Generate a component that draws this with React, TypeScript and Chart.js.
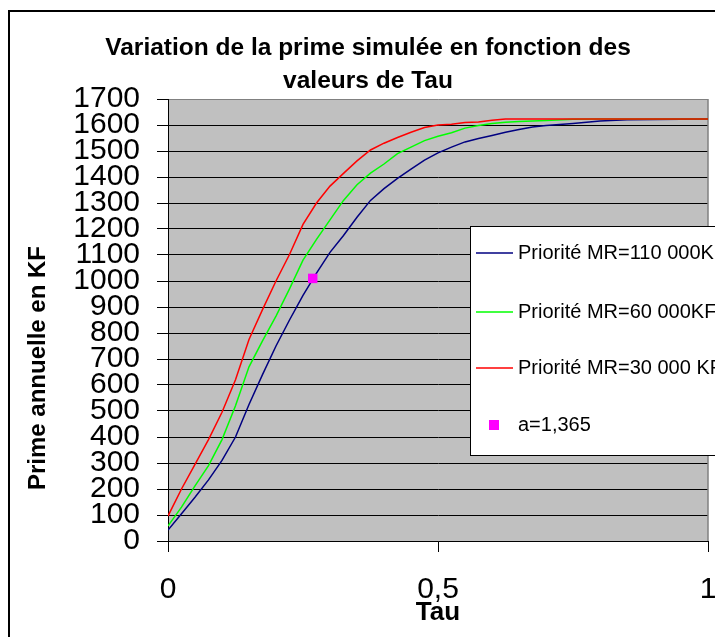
import { useEffect, useRef } from "react";
import { Chart, registerables } from "chart.js";

Chart.register(...registerables);

if (typeof document !== "undefined") {
  document.documentElement.style.overflow = "hidden";
}

const TITLE_LINES = ["Variation de la prime simulée en fonction des", "valeurs de Tau"];
const Y_TITLE = "Prime annuelle en KF";
const X_TITLE = "Tau";
const SERIES_LABELS = ["Priorité MR=110 000KF", "Priorité MR=60 000KF", "Priorité MR=30 000 KF"];
const POINT_LABEL = "a=1,365";

const TAU = [
  0, 0.025, 0.05, 0.075, 0.1, 0.125, 0.15, 0.175, 0.2, 0.225, 0.25, 0.275, 0.3, 0.325, 0.35, 0.375,
  0.4, 0.425, 0.45, 0.475, 0.5, 0.525, 0.55, 0.575, 0.6, 0.625, 0.65, 0.675, 0.7, 0.75, 0.8, 0.85,
  0.9, 0.95, 1,
];
const MR110 = [
  42, 105, 168, 235, 310, 400, 525, 640, 750, 850, 945, 1030, 1110, 1175, 1245, 1310,
  1355, 1395, 1430, 1465, 1493, 1515, 1535, 1548, 1560, 1572, 1583, 1592, 1598, 1606, 1615, 1620,
  1621, 1622, 1623,
];
const MR60 = [
  58, 130, 212, 290, 390, 520, 670, 770, 865, 970, 1080, 1160, 1235, 1310, 1370, 1415,
  1450, 1490, 1515, 1540, 1557, 1570, 1588, 1598, 1606, 1611, 1613, 1615, 1617, 1622, 1623, 1623,
  1623, 1623, 1623,
];
const MR30 = [
  96, 200, 295, 390, 495, 620, 775, 890, 1000, 1102, 1218, 1300, 1365, 1414, 1462, 1504,
  1530, 1552, 1572, 1590, 1600, 1603, 1610, 1612, 1618, 1623, 1623, 1623, 1623, 1623, 1623, 1623,
  1623, 1623, 1623,
];
const POINT_TAU = [0.268];
const POINT_VALUE = [1010];

const X_MIN = 0;
const X_MAX = 1;
const X_STEP = 0.5;
const Y_MIN = 0;
const Y_MAX = 1700;
const Y_STEP = 100;

const COLORS = ["#000080", "#00FF00", "#FF0000"];
const MARKER_COLOR = "#FF00FF";
const FONT = "'Liberation Sans', Arial, Helvetica, sans-serif";

const decorPlugin = {
  id: "decor",
  beforeDraw(chart: any) {
    const { ctx, chartArea } = chart;
    const { left, top, right, bottom } = chartArea;
    ctx.save();
    ctx.fillStyle = "#C0C0C0";
    ctx.fillRect(left, top, right - left, bottom - top);
    ctx.restore();
  },
  beforeDatasetsDraw(chart: any) {
    const { ctx, chartArea } = chart;
    const { top, right, bottom } = chartArea;
    ctx.save();
    ctx.strokeStyle = "#808080";
    ctx.lineWidth = 1.5;
    ctx.beginPath();
    ctx.moveTo(right, top);
    ctx.lineTo(right, bottom);
    ctx.stroke();
    ctx.restore();
  },
  afterDraw(chart: any) {
    const { ctx } = chart;
    ctx.save();
    // outer frame
    ctx.strokeStyle = "#000";
    ctx.lineWidth = 2;
    ctx.strokeRect(1, 3, 900, 900);

    // title
    ctx.fillStyle = "#000";
    ctx.textAlign = "center";
    ctx.textBaseline = "middle";
    ctx.font = `bold 24.5px ${FONT}`;
    ctx.fillText(TITLE_LINES[0], 360, 40);
    ctx.fillText(TITLE_LINES[1], 360, 73);

    // y title
    ctx.save();
    ctx.translate(30, 360);
    ctx.rotate(-Math.PI / 2);
    ctx.font = `bold 24px ${FONT}`;
    ctx.fillText(Y_TITLE, 0, 0);
    ctx.restore();

    // legend
    const bx = 462;
    const by = 218;
    ctx.fillStyle = "#FFFFFF";
    ctx.fillRect(bx, by, 300, 229);
    ctx.strokeStyle = "#000";
    ctx.lineWidth = 1;
    ctx.strokeRect(bx + 0.5, by + 0.5, 300, 229);
    const rows = [245, 304, 360, 417];
    ctx.font = `20px ${FONT}`;
    ctx.textAlign = "left";
    ctx.textBaseline = "middle";
    for (let i = 0; i < 3; i++) {
      ctx.strokeStyle = COLORS[i];
      ctx.lineWidth = 1.5;
      ctx.beginPath();
      ctx.moveTo(468, rows[i]);
      ctx.lineTo(505, rows[i]);
      ctx.stroke();
      ctx.fillStyle = "#000";
      ctx.fillText(SERIES_LABELS[i], 510, rows[i]);
    }
    ctx.fillStyle = MARKER_COLOR;
    ctx.fillRect(481, rows[3] - 5, 10, 10);
    ctx.fillStyle = "#000";
    ctx.fillText(POINT_LABEL, 510, rows[3]);
    ctx.restore();
  },
};

export default function App() {
  const ref = useRef<HTMLCanvasElement | null>(null);

  useEffect(() => {
    document.documentElement.style.overflow = "hidden";
    document.body.style.overflow = "hidden";
    const canvas = ref.current;
    if (!canvas) return;
    const lineSet = (i: number, values: number[], order: number) => ({
      type: "line" as const,
      label: SERIES_LABELS[i],
      data: TAU.map((t, k) => ({ x: t, y: values[k] })),
      borderColor: COLORS[i],
      backgroundColor: COLORS[i],
      borderWidth: 1.5,
      pointRadius: 0,
      tension: 0,
      fill: false,
      order,
    });
    const chart = new Chart(canvas, {
      type: "line",
      data: {
        datasets: [
          {
            type: "scatter" as const,
            label: POINT_LABEL,
            data: POINT_TAU.map((t, k) => ({ x: t, y: POINT_VALUE[k] })),
            pointStyle: "rect",
            pointRadius: 6.7,
            backgroundColor: MARKER_COLOR,
            borderColor: MARKER_COLOR,
            borderWidth: 0,
            showLine: false,
            order: 0,
          } as any,
          lineSet(2, MR30, 1),
          lineSet(1, MR60, 2),
          lineSet(0, MR110, 3),
        ],
      },
      options: {
        responsive: false,
        animation: false,
        devicePixelRatio: 1,
        layout: { padding: { left: 8, top: 91, right: 15, bottom: 0 } },
        plugins: {
          legend: { display: false },
          title: { display: false },
          tooltip: { enabled: false },
        },
        font: { family: FONT },
        scales: {
          x: {
            type: "linear",
            min: X_MIN,
            max: X_MAX,
            afterFit: (scale: any) => {
              scale.height = 96;
            },
            ticks: {
              stepSize: X_STEP,
              maxRotation: 0,
              autoSkip: false,
              padding: 2,
              color: "#000",
              font: { family: FONT, size: 30, lineHeight: 2.4 },
              callback: (v: any) => String(v).replace(".", ","),
            },
            grid: {
              drawOnChartArea: false,
              drawTicks: true,
              tickLength: 11,
              color: "#000",
              tickColor: "#000",
            },
            border: { color: "#000", width: 1 },
            title: {
              display: true,
              text: X_TITLE,
              color: "#000",
              font: { family: FONT, size: 26, weight: "bold" },
              padding: { top: 0, bottom: 9 },
            },
          },
          y: {
            type: "linear",
            min: Y_MIN,
            max: Y_MAX,
            afterFit: (scale: any) => {
              scale.width = 152;
            },
            ticks: {
              stepSize: Y_STEP,
              autoSkip: false,
              padding: 17,
              color: "#000",
              font: { family: FONT, size: 30 },
              callback: (v: any) => String(v),
            },
            grid: {
              drawTicks: true,
              tickLength: 11,
              color: (c: any) => (c.tick && c.tick.value === Y_MAX ? "#808080" : "#000"),
              tickColor: "#000",
              lineWidth: 1,
            },
            border: { color: "#000", width: 1 },
          },
        },
      } as any,
      plugins: [decorPlugin],
    });
    return () => chart.destroy();
  }, []);

  return (
    <div style={{ width: 715, height: 629 }}>
      <canvas ref={ref} width={715} height={629} style={{ display: "block" }} />
    </div>
  );
}
